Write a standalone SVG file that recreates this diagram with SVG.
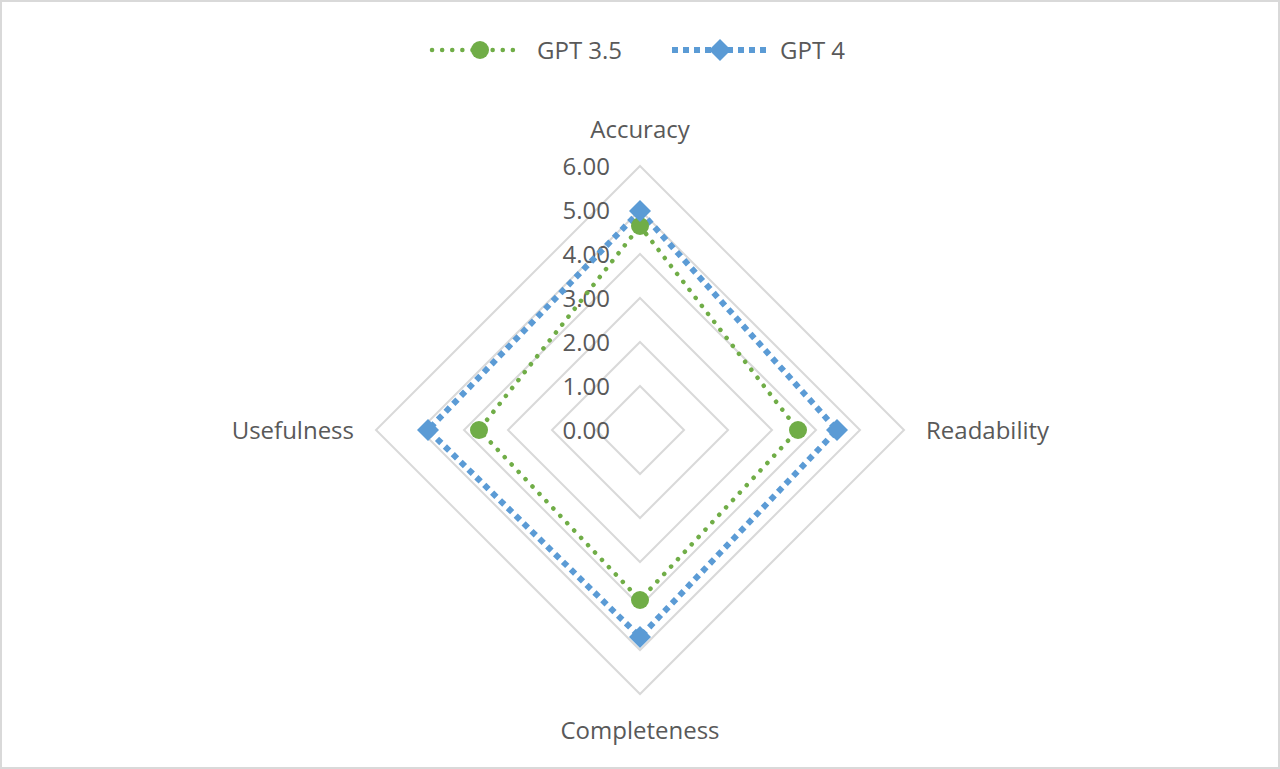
<svg xmlns="http://www.w3.org/2000/svg" width="1280" height="769" viewBox="0 0 1280 769">
<style>
text{font-family:"Open Sans","Liberation Sans",sans-serif;fill:#595959;font-size:24px}
.grid{fill:none;stroke:#d9d9d9;stroke-width:2}
.g35{fill:none;stroke:#70ad47;stroke-width:4.5;stroke-dasharray:0.1 10;stroke-linecap:round}
.g4{fill:none;stroke:#5b9bd5;stroke-width:6;stroke-dasharray:6 5}
.tick{text-anchor:end}
</style>
<rect x="1" y="1" width="1278" height="767" fill="#fff" stroke="#d9d9d9" stroke-width="2"/>
<g id="grid">
<polygon class="grid" points="640,386 684,430 640,474 596,430"/>
<polygon class="grid" points="640,342 728,430 640,518 552,430"/>
<polygon class="grid" points="640,298 772,430 640,562 508,430"/>
<polygon class="grid" points="640,254 816,430 640,606 464,430"/>
<polygon class="grid" points="640,210 860,430 640,650 420,430"/>
<polygon class="grid" points="640,166 904,430 640,694 376,430"/>
</g>
<g id="ticks">
<text class="tick" x="610" y="439">0.00</text>
<text class="tick" x="610" y="395">1.00</text>
<text class="tick" x="610" y="351">2.00</text>
<text class="tick" x="610" y="307">3.00</text>
<text class="tick" x="610" y="263">4.00</text>
<text class="tick" x="610" y="219">5.00</text>
<text class="tick" x="610" y="175">6.00</text>
</g>
<g id="labels">
<text x="640" y="138" text-anchor="middle">Accuracy</text>
<text x="926" y="439">Readability</text>
<text x="640" y="739" text-anchor="middle">Completeness</text>
<text x="354" y="439" text-anchor="end">Usefulness</text>
</g>
<g id="connectors">
<polygon class="g35" points="640,226 798,430 640,600 479,430"/>
<polygon class="g4" points="640,211 837,430 640,637 428,430"/>
</g>
<g id="gpt35-markers" fill="#70ad47">
<circle cx="640" cy="226" r="9"/><circle cx="798" cy="430" r="9"/><circle cx="640" cy="600" r="9"/><circle cx="479" cy="430" r="9"/>
</g>
<g id="gpt4-markers" fill="#5b9bd5">
<polygon points="640,200 651,211 640,222 629,211"/>
<polygon points="837,419 848,430 837,441 826,430"/>
<polygon points="640,626 651,637 640,648 629,637"/>
<polygon points="428,419 439,430 428,441 417,430"/>
</g>
<g id="legend">
<line class="g35" x1="432" y1="50" x2="522" y2="50"/>
<circle cx="480" cy="50" r="9" fill="#70ad47"/>
<text x="537" y="59">GPT 3.5</text>
<line class="g4" x1="672" y1="50" x2="766" y2="50"/>
<polygon points="720,39 731,50 720,61 709,50" fill="#5b9bd5"/>
<text x="780" y="59">GPT 4</text>
</g>
</svg>
